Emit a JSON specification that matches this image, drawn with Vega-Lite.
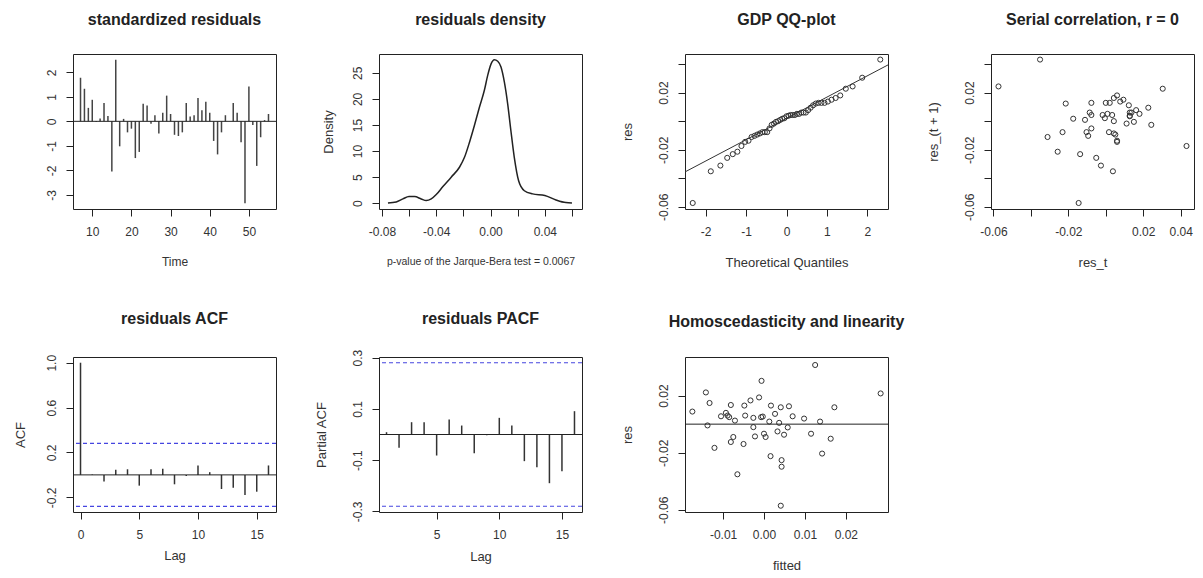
{
  "$schema": "https://vega.github.io/schema/vega-lite/v6.json",
  "padding": {"left": 13, "top": 11, "right": 4, "bottom": 4},
  "background": "white",
  "datasets": {
    "one": [{"h": 0}],
    "ci": [{"ci": 0.28}, {"ci": -0.28}],
    "std": [
      {"t": 7, "z": 1.78}, {"t": 8, "z": 1.33}, {"t": 9, "z": 0.55}, {"t": 10, "z": 0.88}, {"t": 11, "z": -0.03},
      {"t": 12, "z": 0.12}, {"t": 13, "z": 0.75}, {"t": 14, "z": 0.22}, {"t": 15, "z": -2.05}, {"t": 16, "z": 2.52},
      {"t": 17, "z": -1.02}, {"t": 18, "z": 0.1}, {"t": 19, "z": -0.45}, {"t": 20, "z": -0.3}, {"t": 21, "z": -1.5},
      {"t": 22, "z": -1.25}, {"t": 23, "z": 0.72}, {"t": 24, "z": 0.65}, {"t": 25, "z": -0.1}, {"t": 26, "z": 0.25},
      {"t": 27, "z": -0.5}, {"t": 28, "z": 0.35}, {"t": 29, "z": 1.05}, {"t": 30, "z": 0.3}, {"t": 31, "z": -0.55},
      {"t": 32, "z": -0.6}, {"t": 33, "z": -0.45}, {"t": 34, "z": 0.75}, {"t": 35, "z": 0.2}, {"t": 36, "z": 0.25},
      {"t": 37, "z": 0.95}, {"t": 38, "z": 0.45}, {"t": 39, "z": 0.8}, {"t": 40, "z": 0.35}, {"t": 41, "z": -0.8},
      {"t": 42, "z": -1.35}, {"t": 43, "z": -0.45}, {"t": 44, "z": 0.25}, {"t": 45, "z": 0.0}, {"t": 46, "z": 0.75},
      {"t": 47, "z": 0.35}, {"t": 48, "z": -0.85}, {"t": 49, "z": -3.35}, {"t": 50, "z": 1.42}, {"t": 51, "z": -0.15},
      {"t": 52, "z": -1.82}, {"t": 53, "z": -0.65}, {"t": 54, "z": 0.05}, {"t": 55, "z": 0.3}
    ],
    "dens": [
      {"x": -0.0756, "d": 0.06}, {"x": -0.0695, "d": 0.26}, {"x": -0.0646, "d": 0.83}, {"x": -0.0601, "d": 1.28},
      {"x": -0.056, "d": 1.28}, {"x": -0.0511, "d": 0.83}, {"x": -0.0474, "d": 0.51}, {"x": -0.0437, "d": 0.83},
      {"x": -0.04, "d": 1.66}, {"x": -0.0351, "d": 3.2}, {"x": -0.029, "d": 5.0}, {"x": -0.0229, "d": 6.9},
      {"x": -0.0192, "d": 8.8}, {"x": -0.0155, "d": 11.7}, {"x": -0.0119, "d": 14.9}, {"x": -0.0082, "d": 18.4},
      {"x": -0.0045, "d": 21.7}, {"x": -0.0021, "d": 24.5}, {"x": 0.0004, "d": 26.7}, {"x": 0.0028, "d": 27.5},
      {"x": 0.0053, "d": 27.2}, {"x": 0.0077, "d": 26.1}, {"x": 0.0102, "d": 23.2}, {"x": 0.0126, "d": 19.1},
      {"x": 0.015, "d": 13.9}, {"x": 0.0175, "d": 8.8}, {"x": 0.0207, "d": 4.3}, {"x": 0.0249, "d": 2.4},
      {"x": 0.031, "d": 1.8}, {"x": 0.04, "d": 1.5}, {"x": 0.0482, "d": 0.64}, {"x": 0.0555, "d": 0.13}, {"x": 0.06, "d": 0.06}
    ],
    "qq": [
      {"q": -2.319, "s": -0.0573}, {"q": -1.872, "s": -0.0351}, {"q": -1.635, "s": -0.0311}, {"q": -1.466, "s": -0.0257},
      {"q": -1.329, "s": -0.0231}, {"q": -1.215, "s": -0.0214}, {"q": -1.114, "s": -0.0174}, {"q": -1.023, "s": -0.0145},
      {"q": -0.94, "s": -0.0137}, {"q": -0.864, "s": -0.0111}, {"q": -0.792, "s": -0.0103}, {"q": -0.724, "s": -0.0094},
      {"q": -0.658, "s": -0.0086}, {"q": -0.596, "s": -0.0077}, {"q": -0.536, "s": -0.0077}, {"q": -0.478, "s": -0.0077},
      {"q": -0.421, "s": -0.0051}, {"q": -0.366, "s": -0.0026}, {"q": -0.311, "s": -0.0017}, {"q": -0.258, "s": -0.0005},
      {"q": -0.206, "s": 0.0}, {"q": -0.154, "s": 0.0009}, {"q": -0.102, "s": 0.0017}, {"q": -0.051, "s": 0.0021},
      {"q": 0.0, "s": 0.0034}, {"q": 0.051, "s": 0.0038}, {"q": 0.102, "s": 0.0043}, {"q": 0.154, "s": 0.0043},
      {"q": 0.206, "s": 0.0043}, {"q": 0.258, "s": 0.0051}, {"q": 0.311, "s": 0.0051}, {"q": 0.366, "s": 0.006},
      {"q": 0.421, "s": 0.006}, {"q": 0.478, "s": 0.006}, {"q": 0.536, "s": 0.0077}, {"q": 0.596, "s": 0.0094},
      {"q": 0.658, "s": 0.0111}, {"q": 0.724, "s": 0.0123}, {"q": 0.792, "s": 0.0128}, {"q": 0.864, "s": 0.0128},
      {"q": 0.94, "s": 0.0128}, {"q": 1.023, "s": 0.0137}, {"q": 1.114, "s": 0.015}, {"q": 1.215, "s": 0.0162},
      {"q": 1.329, "s": 0.018}, {"q": 1.466, "s": 0.0227}, {"q": 1.635, "s": 0.0243}, {"q": 1.872, "s": 0.0304},
      {"q": 2.319, "s": 0.0431}
    ],
    "qqline": [{"q": -2.6, "s": -0.0369}, {"q": 2.6, "s": 0.0407}],
    "serial": [
      {"a": 0.0304, "b": 0.0227}, {"a": 0.0227, "b": 0.0094}, {"a": 0.0094, "b": 0.015}, {"a": 0.015, "b": -0.0005},
      {"a": -0.0005, "b": 0.0021}, {"a": 0.0021, "b": 0.0128}, {"a": 0.0128, "b": 0.0038}, {"a": 0.0038, "b": -0.0351},
      {"a": -0.0351, "b": 0.0431}, {"a": 0.0431, "b": -0.0174}, {"a": -0.0174, "b": 0.0017}, {"a": 0.0017, "b": -0.0077},
      {"a": -0.0077, "b": -0.0051}, {"a": -0.0051, "b": -0.0257}, {"a": -0.0257, "b": -0.0214}, {"a": -0.0214, "b": 0.0123},
      {"a": 0.0123, "b": 0.0111}, {"a": 0.0111, "b": -0.0017}, {"a": -0.0017, "b": 0.0043}, {"a": 0.0043, "b": -0.0086},
      {"a": -0.0086, "b": 0.006}, {"a": 0.006, "b": 0.018}, {"a": 0.018, "b": 0.0051}, {"a": 0.0051, "b": -0.0094},
      {"a": -0.0094, "b": -0.0103}, {"a": -0.0103, "b": -0.0077}, {"a": -0.0077, "b": 0.0128}, {"a": 0.0128, "b": 0.0034},
      {"a": 0.0034, "b": 0.0043}, {"a": 0.0043, "b": 0.0162}, {"a": 0.0162, "b": 0.0077}, {"a": 0.0077, "b": 0.0137},
      {"a": 0.0137, "b": 0.006}, {"a": 0.006, "b": -0.0137}, {"a": -0.0137, "b": -0.0231}, {"a": -0.0231, "b": -0.0077},
      {"a": -0.0077, "b": 0.0043}, {"a": 0.0043, "b": 0.0}, {"a": 0.0, "b": 0.0128}, {"a": 0.0128, "b": 0.006},
      {"a": 0.006, "b": -0.0145}, {"a": -0.0145, "b": -0.0573}, {"a": -0.0573, "b": 0.0243}, {"a": 0.0243, "b": -0.0026},
      {"a": -0.0026, "b": -0.0311}, {"a": -0.0311, "b": -0.0111}, {"a": -0.0111, "b": 0.0009}, {"a": 0.0009, "b": 0.0051}
    ],
    "acf": [
      {"lag": 0, "acf": 1.0}, {"lag": 1, "acf": 0.004}, {"lag": 2, "acf": -0.06}, {"lag": 3, "acf": 0.045},
      {"lag": 4, "acf": 0.05}, {"lag": 5, "acf": -0.096}, {"lag": 6, "acf": 0.05}, {"lag": 7, "acf": 0.054},
      {"lag": 8, "acf": -0.084}, {"lag": 9, "acf": -0.01}, {"lag": 10, "acf": 0.084}, {"lag": 11, "acf": 0.024},
      {"lag": 12, "acf": -0.126}, {"lag": 13, "acf": -0.114}, {"lag": 14, "acf": -0.18}, {"lag": 15, "acf": -0.15},
      {"lag": 16, "acf": 0.084}
    ],
    "pacf": [
      {"lag": 1, "pacf": 0.009}, {"lag": 2, "pacf": -0.052}, {"lag": 3, "pacf": 0.048}, {"lag": 4, "pacf": 0.048},
      {"lag": 5, "pacf": -0.082}, {"lag": 6, "pacf": 0.059}, {"lag": 7, "pacf": 0.035}, {"lag": 8, "pacf": -0.073},
      {"lag": 9, "pacf": -0.003}, {"lag": 10, "pacf": 0.065}, {"lag": 11, "pacf": 0.035}, {"lag": 12, "pacf": -0.104},
      {"lag": 13, "pacf": -0.128}, {"lag": 14, "pacf": -0.19}, {"lag": 15, "pacf": -0.143}, {"lag": 16, "pacf": 0.091}
    ],
    "homo": [
      {"fitted": -0.0175, "res": 0.0088}, {"fitted": -0.0142, "res": 0.0222}, {"fitted": -0.0133, "res": 0.0148},
      {"fitted": -0.0138, "res": -0.0009}, {"fitted": -0.0121, "res": -0.0166}, {"fitted": -0.0105, "res": 0.0055},
      {"fitted": -0.0093, "res": 0.0079}, {"fitted": -0.0089, "res": 0.006}, {"fitted": -0.0081, "res": 0.0134},
      {"fitted": -0.0085, "res": 0.0049}, {"fitted": -0.0071, "res": 0.0025}, {"fitted": -0.0075, "res": -0.009},
      {"fitted": -0.0081, "res": -0.0125}, {"fitted": -0.0065, "res": -0.0351}, {"fitted": -0.005, "res": -0.0139},
      {"fitted": -0.0048, "res": 0.013}, {"fitted": -0.0046, "res": 0.006}, {"fitted": -0.0033, "res": 0.0166},
      {"fitted": -0.0026, "res": 0.0044}, {"fitted": -0.0026, "res": -0.0021}, {"fitted": -0.0022, "res": -0.0086},
      {"fitted": -0.0012, "res": 0.0187}, {"fitted": -0.0006, "res": 0.0303}, {"fitted": -0.0003, "res": 0.0053},
      {"fitted": 0.0, "res": -0.0067}, {"fitted": 0.0004, "res": -0.009}, {"fitted": 0.0013, "res": 0.0018},
      {"fitted": 0.0017, "res": 0.013}, {"fitted": 0.0016, "res": -0.0224}, {"fitted": 0.0027, "res": 0.0072},
      {"fitted": 0.0033, "res": -0.0051}, {"fitted": 0.0037, "res": 0.0009}, {"fitted": 0.0041, "res": 0.0118},
      {"fitted": 0.0043, "res": -0.0252}, {"fitted": 0.0043, "res": -0.0298}, {"fitted": 0.0041, "res": -0.0571},
      {"fitted": 0.0049, "res": -0.0074}, {"fitted": 0.0058, "res": -0.0023}, {"fitted": 0.0061, "res": 0.0125},
      {"fitted": 0.007, "res": 0.0055}, {"fitted": 0.0098, "res": 0.0039}, {"fitted": 0.0115, "res": -0.0067},
      {"fitted": 0.0125, "res": 0.0414}, {"fitted": 0.0137, "res": 0.0018}, {"fitted": 0.0142, "res": -0.0206},
      {"fitted": 0.0163, "res": -0.0102}, {"fitted": 0.0172, "res": 0.0118}, {"fitted": 0.0285, "res": 0.0215},
      {"fitted": -0.0007, "res": 0.0049}
    ]
  },
  "columns": 4,
  "bounds": "flush",
  "spacing": {"row": 148, "column": 103},
  "concat": [
    {
      "title": {"text": "standardized residuals", "offset": 26},
      "width": 203, "height": 155,
      "layer": [
        {
          "data": {"name": "std"},
          "mark": {"type": "rule", "color": "#444", "strokeWidth": 1.5},
          "encoding": {
            "x": {"field": "t", "type": "quantitative", "scale": {"domain": [5.08, 56.92], "nice": false, "zero": false},
                  "axis": {"title": "Time", "titleFontSize": 12, "values": [10, 20, 30, 40, 50], "format": "d"}},
            "y": {"field": "z", "type": "quantitative", "scale": {"domain": [-3.58, 2.75], "nice": false, "zero": false},
                  "axis": {"title": null, "values": [-3, -2, -1, 0, 1, 2], "format": "d", "labelOverlap": false}},
            "y2": {"datum": 0}
          }
        },
        {
          "data": {"name": "one"},
          "mark": {"type": "rule", "color": "#222", "strokeWidth": 1},
          "encoding": {"y": {"datum": 0, "axis": {"title": null, "values": [-3, -2, -1, 0, 1, 2], "format": "d", "labelOverlap": false}}}
        }
      ]
    },
    {
      "title": {"text": "residuals density", "offset": 26},
      "width": 203, "height": 155,
      "data": {"name": "dens"},
      "mark": {"type": "line", "color": "#222", "strokeWidth": 1.5, "interpolate": "monotone"},
      "encoding": {
        "x": {"field": "x", "type": "quantitative", "scale": {"domain": [-0.0822, 0.0674], "nice": false, "zero": false},
              "axis": {"title": "p-value of the Jarque-Bera test = 0.0067", "titleFontSize": 10.5, "values": [-0.08, -0.06, -0.04, -0.02, 0, 0.02, 0.04, 0.06], "format": ".2f",
                       "labelExpr": "indexof([-0.08, -0.04, 0, 0.04], datum.value) >= 0 ? datum.label : ''"}},
        "y": {"field": "d", "type": "quantitative", "scale": {"domain": [-1.1, 28.6], "nice": false, "zero": false},
              "axis": {"title": "Density", "titlePadding": 18, "values": [0, 5, 10, 15, 20, 25], "format": "d", "labelOverlap": false}}
      }
    },
    {
      "title": {"text": "GDP QQ-plot", "offset": 26},
      "width": 203, "height": 155,
      "layer": [
        {
          "data": {"name": "qq"},
          "mark": {"type": "point", "shape": "circle", "filled": false, "size": 26, "stroke": "#333", "strokeWidth": 1, "opacity": 1},
          "encoding": {
            "x": {"field": "q", "type": "quantitative", "scale": {"domain": [-2.51, 2.51], "nice": false, "zero": false},
                  "axis": {"title": "Theoretical Quantiles", "values": [-2, -1, 0, 1, 2], "format": "d"}},
            "y": {"field": "s", "type": "quantitative", "scale": {"domain": [-0.0615, 0.047], "nice": false, "zero": false},
                  "axis": {"title": "res", "titlePadding": 25, "labelOverlap": false, "values": [-0.06, -0.04, -0.02, 0, 0.02, 0.04], "format": ".2f",
                           "labelExpr": "indexof([-0.06, -0.02, 0.02], datum.value) >= 0 ? datum.label : ''"}}
          }
        },
        {
          "data": {"name": "qqline"},
          "mark": {"type": "line", "color": "#333", "strokeWidth": 1, "clip": true},
          "encoding": {
            "x": {"field": "q", "type": "quantitative", "axis": {"title": "Theoretical Quantiles", "values": [-2, -1, 0, 1, 2], "format": "d"}},
            "y": {"field": "s", "type": "quantitative",
                  "axis": {"title": "res", "titlePadding": 25, "labelOverlap": false, "values": [-0.06, -0.04, -0.02, 0, 0.02, 0.04], "format": ".2f",
                           "labelExpr": "indexof([-0.06, -0.02, 0.02], datum.value) >= 0 ? datum.label : ''"}}
          }
        }
      ]
    },
    {
      "title": {"text": "Serial correlation, r = 0", "offset": 26},
      "width": 203, "height": 155,
      "data": {"name": "serial"},
      "mark": {"type": "point", "shape": "circle", "filled": false, "size": 26, "stroke": "#333", "strokeWidth": 1, "opacity": 1},
      "encoding": {
        "x": {"field": "a", "type": "quantitative", "scale": {"domain": [-0.0613, 0.0471], "nice": false, "zero": false},
              "axis": {"title": "res_t", "values": [-0.06, -0.04, -0.02, 0, 0.02, 0.04], "format": ".2f",
                       "labelExpr": "indexof([-0.06, -0.02, 0.02, 0.04], datum.value) >= 0 ? datum.label : ''"}},
        "y": {"field": "b", "type": "quantitative", "scale": {"domain": [-0.0615, 0.047], "nice": false, "zero": false},
              "axis": {"title": "res_(t + 1)", "titlePadding": 25, "labelOverlap": false, "values": [-0.06, -0.04, -0.02, 0, 0.02, 0.04], "format": ".2f",
                       "labelExpr": "indexof([-0.06, -0.02, 0.02], datum.value) >= 0 ? datum.label : ''"}}
      }
    },
    {
      "title": {"text": "residuals ACF", "offset": 27},
      "width": 203, "height": 155,
      "layer": [
        {
          "data": {"name": "acf"},
          "mark": {"type": "rule", "color": "#333", "strokeWidth": 1.5},
          "encoding": {
            "x": {"field": "lag", "type": "quantitative", "scale": {"domain": [-0.64, 16.64], "nice": false, "zero": false},
                  "axis": {"title": "Lag", "titlePadding": 8, "values": [0, 5, 10, 15], "format": "d"}},
            "y": {"field": "acf", "type": "quantitative", "scale": {"domain": [-0.331, 1.051], "nice": false, "zero": false},
                  "axis": {"title": "ACF", "titlePadding": 20, "labelOverlap": false, "values": [-0.2, 0, 0.2, 0.4, 0.6, 0.8, 1], "format": ".1f",
                           "labelExpr": "indexof([-0.2, 0.2, 0.6, 1], datum.value) >= 0 ? datum.label : ''"}},
            "y2": {"datum": 0}
          }
        },
        {
          "data": {"name": "one"},
          "mark": {"type": "rule", "color": "#222", "strokeWidth": 1},
          "encoding": {"y": {"datum": 0}}
        },
        {
          "data": {"name": "ci"},
          "mark": {"type": "rule", "color": "#4545e0", "strokeWidth": 1.2, "strokeDash": [4, 3]},
          "encoding": {"y": {"field": "ci", "type": "quantitative"}}
        }
      ]
    },
    {
      "title": {"text": "residuals PACF", "offset": 22},
      "width": 203, "height": 155,
      "layer": [
        {
          "data": {"name": "pacf"},
          "mark": {"type": "rule", "color": "#333", "strokeWidth": 1.5},
          "encoding": {
            "x": {"field": "lag", "type": "quantitative", "scale": {"domain": [0.4, 16.6], "nice": false, "zero": false},
                  "axis": {"title": "Lag", "titlePadding": 9, "values": [5, 10, 15], "format": "d"}},
            "y": {"field": "pacf", "type": "quantitative", "scale": {"domain": [-0.3024, 0.3024], "nice": false, "zero": false},
                  "axis": {"title": "Partial ACF", "titlePadding": 25, "labelOverlap": false, "values": [-0.3, -0.2, -0.1, 0, 0.1, 0.2, 0.3], "format": ".1f",
                           "labelExpr": "indexof([-0.3, -0.1, 0.1, 0.3], datum.value) >= 0 ? datum.label : ''"}},
            "y2": {"datum": 0}
          }
        },
        {
          "data": {"name": "one"},
          "mark": {"type": "rule", "color": "#222", "strokeWidth": 1},
          "encoding": {"y": {"datum": 0}}
        },
        {
          "data": {"name": "ci"},
          "mark": {"type": "rule", "color": "#4545e0", "strokeWidth": 1.2, "strokeDash": [4, 3]},
          "encoding": {"y": {"field": "ci", "type": "quantitative"}}
        }
      ]
    },
    {
      "title": {"text": "Homoscedasticity and linearity", "offset": 27},
      "width": 203, "height": 155,
      "layer": [
        {
          "data": {"name": "homo"},
          "mark": {"type": "point", "shape": "circle", "filled": false, "size": 26, "stroke": "#333", "strokeWidth": 1, "opacity": 1},
          "encoding": {
            "x": {"field": "fitted", "type": "quantitative", "scale": {"domain": [-0.0193, 0.0303], "nice": false, "zero": false},
                  "axis": {"title": "fitted", "values": [-0.01, 0, 0.01, 0.02], "format": ".2f"}},
            "y": {"field": "res", "type": "quantitative", "scale": {"domain": [-0.0615, 0.047], "nice": false, "zero": false},
                  "axis": {"title": "res", "titlePadding": 25, "labelOverlap": false, "values": [-0.06, -0.04, -0.02, 0, 0.02, 0.04], "format": ".2f",
                           "labelExpr": "indexof([-0.06, -0.02, 0.02], datum.value) >= 0 ? datum.label : ''"}}
          }
        },
        {
          "data": {"name": "one"},
          "mark": {"type": "rule", "color": "#222", "strokeWidth": 1},
          "encoding": {"y": {"datum": 0}}
        }
      ]
    }
  ],
  "config": {
    "font": "Liberation Sans",
    "locale": {"number": {"decimal": ".", "thousands": ",", "grouping": [3], "currency": ["$", ""], "minus": "-"}},
    "view": {"stroke": "#222", "strokeWidth": 1},
    "axis": {
      "domain": false, "grid": false, "ticks": true, "tickColor": "#222", "tickSize": 7, "tickWidth": 1,
      "labelFont": "Liberation Sans", "labelFontSize": 12, "labelColor": "#333", "labelFlush": false,
      "titleFont": "Liberation Sans", "titleFontSize": 13, "titleFontWeight": "normal", "titleColor": "#333"
    },
    "axisX": {"labelAngle": 0, "labelPadding": 10, "minExtent": 29, "maxExtent": 29, "titlePadding": 18, "labelOverlap": false},
    "axisY": {"labelAngle": 270, "labelOverlap": false, "labelPadding": 8, "minExtent": 26, "maxExtent": 26, "titlePadding": 16},
    "title": {"font": "Liberation Sans", "fontSize": 16, "fontWeight": "bold", "color": "#222", "anchor": "middle", "frame": "group", "baseline": "alphabetic"}
  }
}
